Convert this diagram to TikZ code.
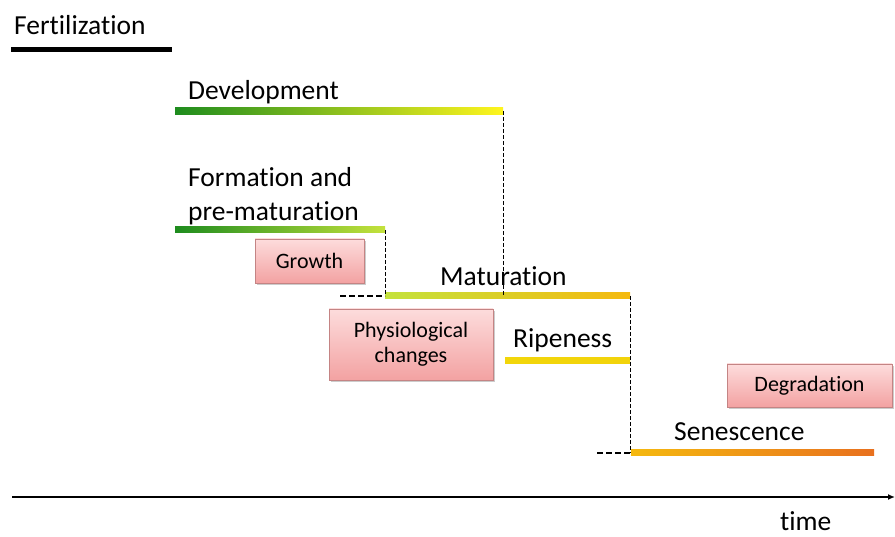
\documentclass[tikz,border=0pt]{standalone}
\usepackage{fontspec}
\setmainfont{Carlito}[Ligatures=NoCommon]
\usetikzlibrary{arrows.meta,shadows}
\definecolor{leaf}{HTML}{1E8C1E}
\definecolor{lime}{HTML}{C4E23C}
\definecolor{lemon}{HTML}{FFF51E}
\definecolor{amber}{HTML}{F5B90F}
\definecolor{gold}{HTML}{F2D60A}
\definecolor{rust}{HTML}{E8701E}
\definecolor{pinktop}{HTML}{FDDCDC}
\definecolor{pinkbot}{HTML}{F3A2A2}
\definecolor{boxline}{HTML}{C48484}

\begin{document}
\begin{tikzpicture}[x=1pt,y=-1pt,lbl/.style={anchor=base west,inner sep=0pt,font=\fontsize{27.5}{33}\selectfont},stage/.style={draw=boxline,top color=pinktop,bottom color=pinkbot,drop shadow={opacity=0.4,shadow xshift=1.5pt,shadow yshift=-2.5pt},align=center,inner sep=0pt,font=\fontsize{22}{25}\selectfont},link/.style={dashed,line width=0.8pt,dash pattern=on 4pt off 2pt},stub/.style={line width=2pt,dash pattern=on 6pt off 3pt}]
\useasboundingbox (0,0) rectangle (895,537);
\node[lbl] (fert) at (14,35) {Fertilization};
\draw[line width=5pt] (11,50) -- (172,50);
\node[lbl] (dev) at (188,100) {Development};
\shade[left color=leaf,right color=lemon] (175,108) rectangle (503,115);
\node[lbl,align=left] (form) at (188,187) {Formation and};
\node[lbl] (prem) at (188,221) {pre-maturation};
\shade[left color=leaf,right color=lime] (175,227) rectangle (385,233);
\node[lbl] (mat) at (440,286) {Maturation};
\shade[left color=lime,middle color=lemon,right color=amber] (385,293) rectangle (630,299);
\node[lbl] (ripe) at (513,348) {Ripeness};
\shade[left color=gold,right color=gold!90!amber] (505,358) rectangle (630,364);
\node[lbl] (sene) at (674,440) {Senescence};
\shade[left color=amber,right color=rust] (631,450) rectangle (874,456);
\node[stage,minimum width=109pt,minimum height=44pt] (grow) at (309.5,261) {Growth};
\node[stage,minimum width=164pt,minimum height=71pt] (phys) at (411,344.5) {Physiological\\changes};
\node[stage,minimum width=165pt,minimum height=43pt] (degr) at (809.5,385.5) {Degradation};
\coordinate (devend) at (503,111);
\coordinate (devdrop) at (503,296);
\coordinate (formend) at (385,230);
\coordinate (matstart) at (385,296);
\coordinate (matpre) at (340,296);
\coordinate (matend) at (630,296);
\coordinate (senstart) at (630,453);
\coordinate (senpre) at (597,453);
\draw[link] (devend) -- (devdrop);
\draw[link] (formend) -- (matstart);
\draw[stub] (matpre) -- (matstart);
\draw[link] (matend) -- (senstart);
\draw[stub] (senpre) -- (senstart);
\coordinate (t0) at (12,497);
\coordinate (t1) at (895,497);
\draw[line width=1.6pt,-{Latex[length=7pt,width=6pt]}] (t0) -- (t1);
\node[lbl] (time) at (780,530) {time};
\end{tikzpicture}
\end{document}
